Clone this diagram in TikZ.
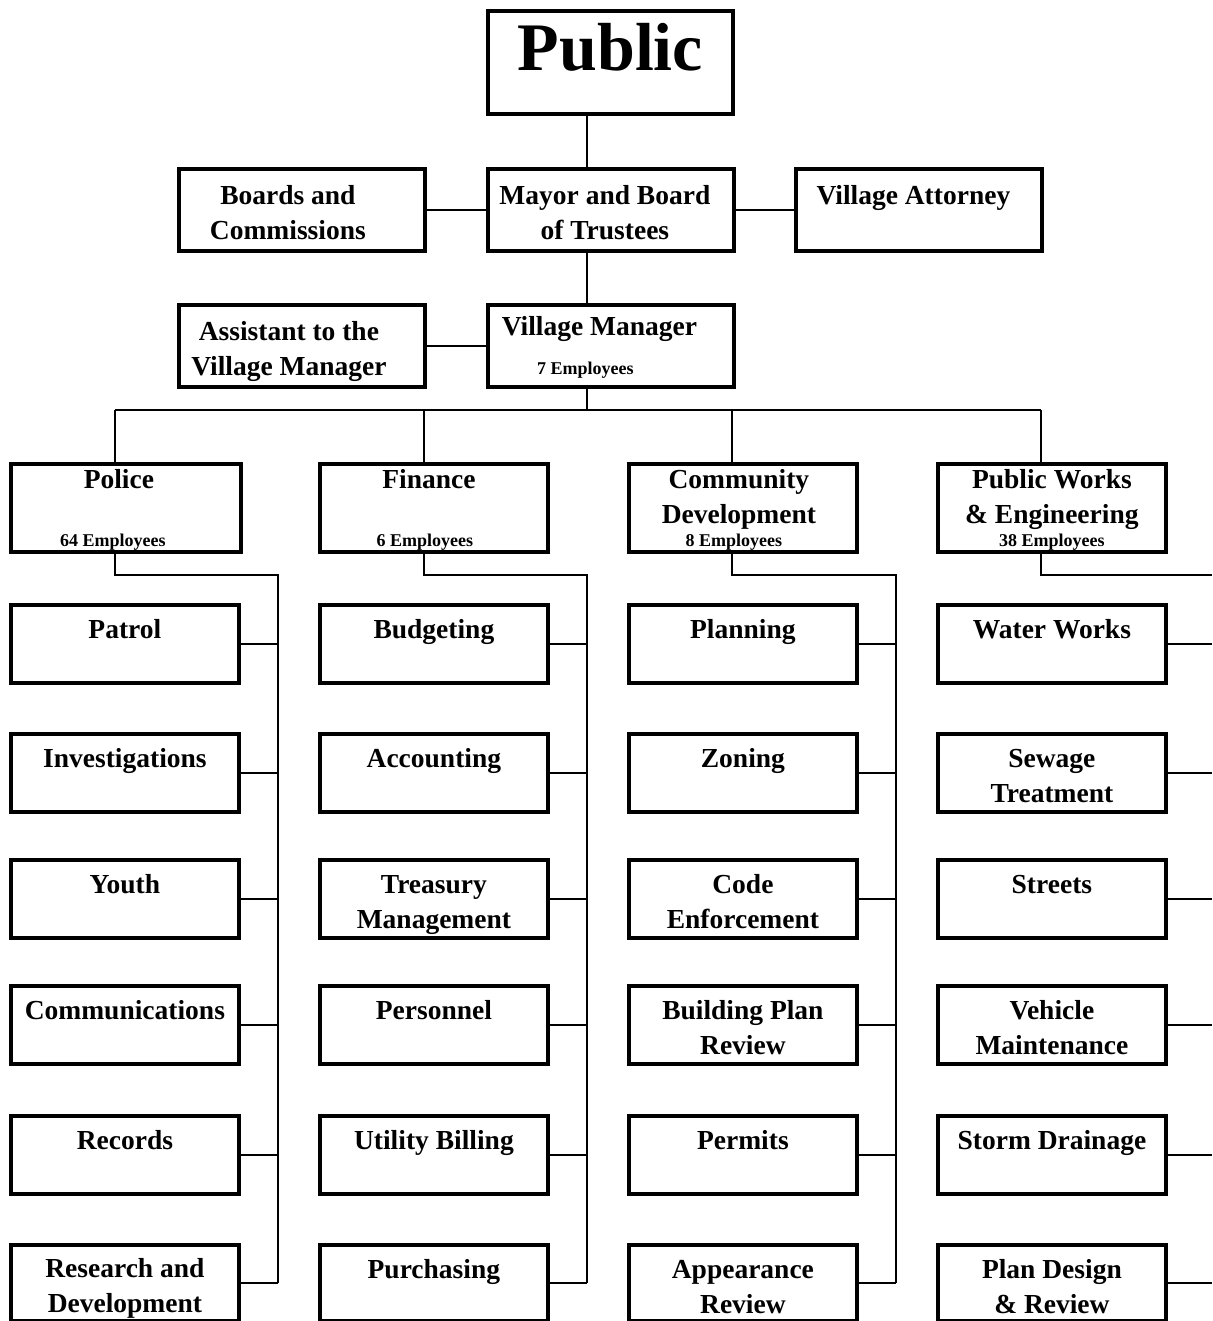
\documentclass[tikz,border=0pt]{standalone}
\usepackage{fontspec}
\setmainfont{Liberation Serif}

\newcommand{\unitfont}{\fontsize{27.5pt}{34.5pt}\selectfont\bfseries}
\newcommand{\stafffont}{\fontsize{18pt}{20pt}\selectfont\bfseries}
\newcommand{\publicfont}{\fontsize{68pt}{80pt}\selectfont\bfseries}

% text pinned to the top of a box
\newcommand{\unittext}[4][0pt]{\parbox[c][#2][s]{216pt}{\centering\rule{0pt}{#3}#4\par\vfill}\hspace*{#1}}
% same, with a staff count on the bottom line
\newcommand{\unitstaff}[6][0pt]{\parbox[c][#2][s]{216pt}{\centering\rule{0pt}{#3}#4\par\vfill{\stafffont #5\rule[-#6]{0pt}{#6}\par}\kern0pt}\hspace*{#1}}

\tikzset{
  unitbox/.style={draw, line width=3.8pt, inner sep=0pt, anchor=north west, font=\unitfont},
  topbox/.style={unitbox, minimum width=246pt, minimum height=82pt},
  deptbox/.style={unitbox, minimum width=228pt, minimum height=88pt},
  subbox/.style={unitbox, minimum width=228pt, minimum height=78pt},
  link/.style={line width=2pt}
}

\begin{document}
\begin{tikzpicture}[x=1pt,y=-1pt]
\useasboundingbox (0,0) rectangle (1212,1321);

% top of the chart
\node[unitbox, minimum width=245pt, minimum height=103pt] (public) at (486,9) {\unittext{103pt}{60pt}{\publicfont Public}};
\node[topbox] (boards) at (177,167) {\unittext[28pt]{82pt}{36pt}{Boards and\\Commissions}};
\node[topbox] (mayor) at (486,167) {\unittext[12pt]{82pt}{36pt}{Mayor and Board\\of Trustees}};
\node[topbox] (attorney) at (794,167) {\unittext[11pt]{82pt}{36pt}{Village Attorney}};
\node[topbox] (assistant) at (177,303) {\unittext[26pt]{82pt}{36pt}{Assistant to the\\Village Manager}};
\node[topbox] (manager) at (486,303) {\unitstaff[23pt]{82pt}{31pt}{Village Manager}{7 Employees\hspace*{28pt}}{12pt}};

\coordinate (spine) at (587,410);
\draw[link] (public.south -| spine) -- (mayor.north -| spine);
\draw[link] (mayor.south -| spine) -- (manager.north -| spine);
\draw[link] (manager.south -| spine) -- (spine);
\draw[link] (boards.east) -- (mayor.west);
\draw[link] (mayor.east) -- (attorney.west);
\draw[link] (assistant.east) -- (manager.west);

% departments
\node[deptbox] (police) at (9,462) {\unitstaff[14pt]{88pt}{25pt}{Police}{64 Employees\hspace*{12pt}}{5pt}};
\node[deptbox] (finance) at (318,462) {\unitstaff[10pt]{88pt}{25pt}{Finance}{6 Employees\hspace*{8pt}}{5pt}};
\node[deptbox] (commdev) at (627,462) {\unitstaff[8pt]{88pt}{25pt}{Community\\Development}{8 Employees\hspace*{10pt}}{5pt}};
\node[deptbox] (pworks) at (936,462) {\unitstaff{88pt}{25pt}{Public Works\\\& Engineering}{38 Employees}{5pt}};

\coordinate (drop1) at (115,410);
\coordinate (drop2) at (424,410);
\coordinate (drop3) at (732,410);
\coordinate (drop4) at (1041,410);
\draw[link] (drop1) -- (drop4);
\draw[link] (drop1) -- (drop1 |- police.north);
\draw[link] (drop2) -- (drop2 |- finance.north);
\draw[link] (drop3) -- (drop3 |- commdev.north);
\draw[link] (drop4) -- (drop4 |- pworks.north);

% divisions
\coordinate (pbus) at (278,575);
\coordinate (fbus) at (587,575);
\coordinate (cbus) at (896,575);
\coordinate (wbus) at (1212,575);

\foreach \nm/\y/\lbl in {patrol/603/Patrol, invest/732/Investigations, youth/858/Youth,
    comms/984/Communications, records/1114/Records} {
  \node[subbox] (\nm) at (9,\y) {\unittext{78pt}{34pt}{\lbl}};
  \draw[link] (\nm.east) -- (\nm.east -| pbus);
}
\node[subbox, minimum height=76pt] (research) at (9,1243) {\unittext{76pt}{33pt}{Research and\\Development}};
\draw[link] (research.east) -- (research.east -| pbus);

\foreach \nm/\y/\lbl in {budget/603/Budgeting, account/732/Accounting, treasury/858/{Treasury\\Management},
    personnel/984/Personnel, billing/1114/Utility Billing} {
  \node[subbox] (\nm) at (318,\y) {\unittext{78pt}{34pt}{\lbl}};
  \draw[link] (\nm.east) -- (\nm.east -| fbus);
}
\node[subbox, minimum height=76pt] (purchase) at (318,1243) {\unittext{76pt}{34pt}{Purchasing}};
\draw[link] (purchase.east) -- (purchase.east -| fbus);

\foreach \nm/\y/\lbl in {planning/603/Planning, zoning/732/Zoning, code/858/{Code\\Enforcement},
    planrev/984/{Building Plan\\Review}, permits/1114/Permits} {
  \node[subbox] (\nm) at (627,\y) {\unittext{78pt}{34pt}{\lbl}};
  \draw[link] (\nm.east) -- (\nm.east -| cbus);
}
\node[subbox, minimum height=76pt] (appear) at (627,1243) {\unittext{76pt}{34pt}{Appearance\\Review}};
\draw[link] (appear.east) -- (appear.east -| cbus);

\foreach \nm/\y/\lbl in {water/603/Water Works, sewage/732/{Sewage\\Treatment}, streets/858/Streets,
    vehicle/984/{Vehicle\\Maintenance}, storm/1114/Storm Drainage} {
  \node[subbox] (\nm) at (936,\y) {\unittext{78pt}{34pt}{\lbl}};
  \draw[link] (\nm.east) -- (\nm.east -| wbus);
}
\node[subbox, minimum height=76pt] (design) at (936,1243) {\unittext{76pt}{34pt}{Plan Design\\\& Review}};
\draw[link] (design.east) -- (design.east -| wbus);

\draw[link] (police.south -| drop1) |- (pbus) -- (pbus |- research.east);
\draw[link] (finance.south -| drop2) |- (fbus) -- (fbus |- purchase.east);
\draw[link] (commdev.south -| drop3) |- (cbus) -- (cbus |- appear.east);
\draw[link] (pworks.south -| drop4) |- (wbus);
\end{tikzpicture}
\end{document}
